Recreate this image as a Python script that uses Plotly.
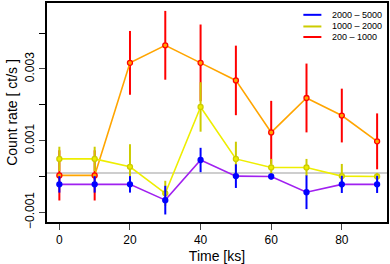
import plotly.graph_objects as go

time_ks = [0, 10, 20, 30, 40, 50, 60, 70, 80, 90]

band_labels = ["200 – 1000", "1000 – 2000", "2000 – 5000"]

soft_rate = [0.00003, 0.00003, 0.00317, 0.00366, 0.00317, 0.00268, 0.00123, 0.00219, 0.00170, 0.00098]
soft_err = [0.00070, 0.00070, 0.00089, 0.00096, 0.00107, 0.00097, 0.00088, 0.00096, 0.00075, 0.00078]

mid_rate = [0.00049, 0.00049, 0.00027, -0.00047, 0.00194, 0.00049, 0.00025, 0.00025, 0.00001, 0.00000]
mid_err = [0.00034, 0.00034, 0.00063, 0.00035, 0.00069, 0.00048, 0.00024, 0.00024, 0.00034, 0.00010]

hard_rate = [-0.00022, -0.00022, -0.00022, -0.00066, 0.00046, 0.00001, 0.00000, -0.00044, -0.00022, -0.00022]
hard_err = [0.00023, 0.00023, 0.00023, 0.00040, 0.00034, 0.00033, 0.00008, 0.00047, 0.00024, 0.00024]

baseline = 0.0001

y_tickvals = [-0.001, 0.001, 0.003]
y_ticktext = ["−0.001", "0.001", "0.003"]
y_minor = [-0.001, 0.0, 0.001, 0.002, 0.003, 0.004]
x_tickvals = [0, 20, 40, 60, 80]

series = [
    (soft_rate, soft_err, "#ffa500", "#ff0000", "#ffa500"),
    (mid_rate, mid_err, "#eeee00", "#cccc00", "#eeee00"),
    (hard_rate, hard_err, "#a020f0", "#0000ff", "#0000ff"),
]

fig = go.Figure()
for rate, err, lc, ec, mc in series:
    fig.add_trace(go.Scatter(
        x=time_ks, y=rate, mode="lines+markers",
        line=dict(color=lc, width=1.6),
        marker=dict(color=mc, size=5, line=dict(color=ec, width=1.3)),
        error_y=dict(type="data", array=err, visible=True, color=ec, thickness=2, width=0),
        showlegend=False,
    ))

fig.add_shape(type="line", xref="paper", x0=0, x1=1, yref="y", y0=baseline, y1=baseline,
              line=dict(color="#bebebe", width=1.5), layer="below")

# manual legend (top right)
legend_items = [("2000 – 5000", "#0000ff"), ("1000 – 2000", "#cccc00"), ("200 – 1000", "#ff0000")]
leg_y = [0.946, 0.8928, 0.8448]
for (txt, col), yy in zip(legend_items, leg_y):
    fig.add_shape(type="line", xref="paper", yref="paper", x0=0.754, x1=0.807, y0=yy, y1=yy,
                  line=dict(color=col, width=2))
    fig.add_annotation(x=0.833, y=yy, xref="paper", yref="paper", text=txt, showarrow=False,
                       xanchor="left", yanchor="middle", font=dict(size=9, color="black"))

font_family = "Liberation Sans, Arial, sans-serif"
fig.update_layout(
    width=390, height=264,
    margin=dict(l=47, r=1, t=1, b=42),
    paper_bgcolor="white", plot_bgcolor="white",
    font=dict(family=font_family, size=12, color="black"),
    xaxis=dict(
        range=[-3.5, 92.8], tickvals=x_tickvals, ticks="outside", ticklen=6, tickwidth=1,
        showline=True, linecolor="black", linewidth=1.5, mirror=True, showgrid=False, zeroline=False,
        title=dict(text="Time [ks]", standoff=6), tickfont=dict(size=12),
    ),
    yaxis=dict(
        range=[-0.00127, 0.00484], tickmode="array", tickvals=y_tickvals, ticktext=y_ticktext,
        tickangle=-90, ticks="outside", ticklen=6, tickwidth=1,
        minor=dict(tickmode="array", tickvals=y_minor, ticks="outside", ticklen=6, tickwidth=1, tickcolor="black"),
        showline=True, linecolor="black", linewidth=1.5, mirror=True, showgrid=False, zeroline=False,
        title=dict(text="Count rate [ ct/s ]", standoff=3), tickfont=dict(size=12),
    ),
)

fig.write_html("out.html", config={"displayModeBar": False},
               post_script="document.body.style.margin='0';")
